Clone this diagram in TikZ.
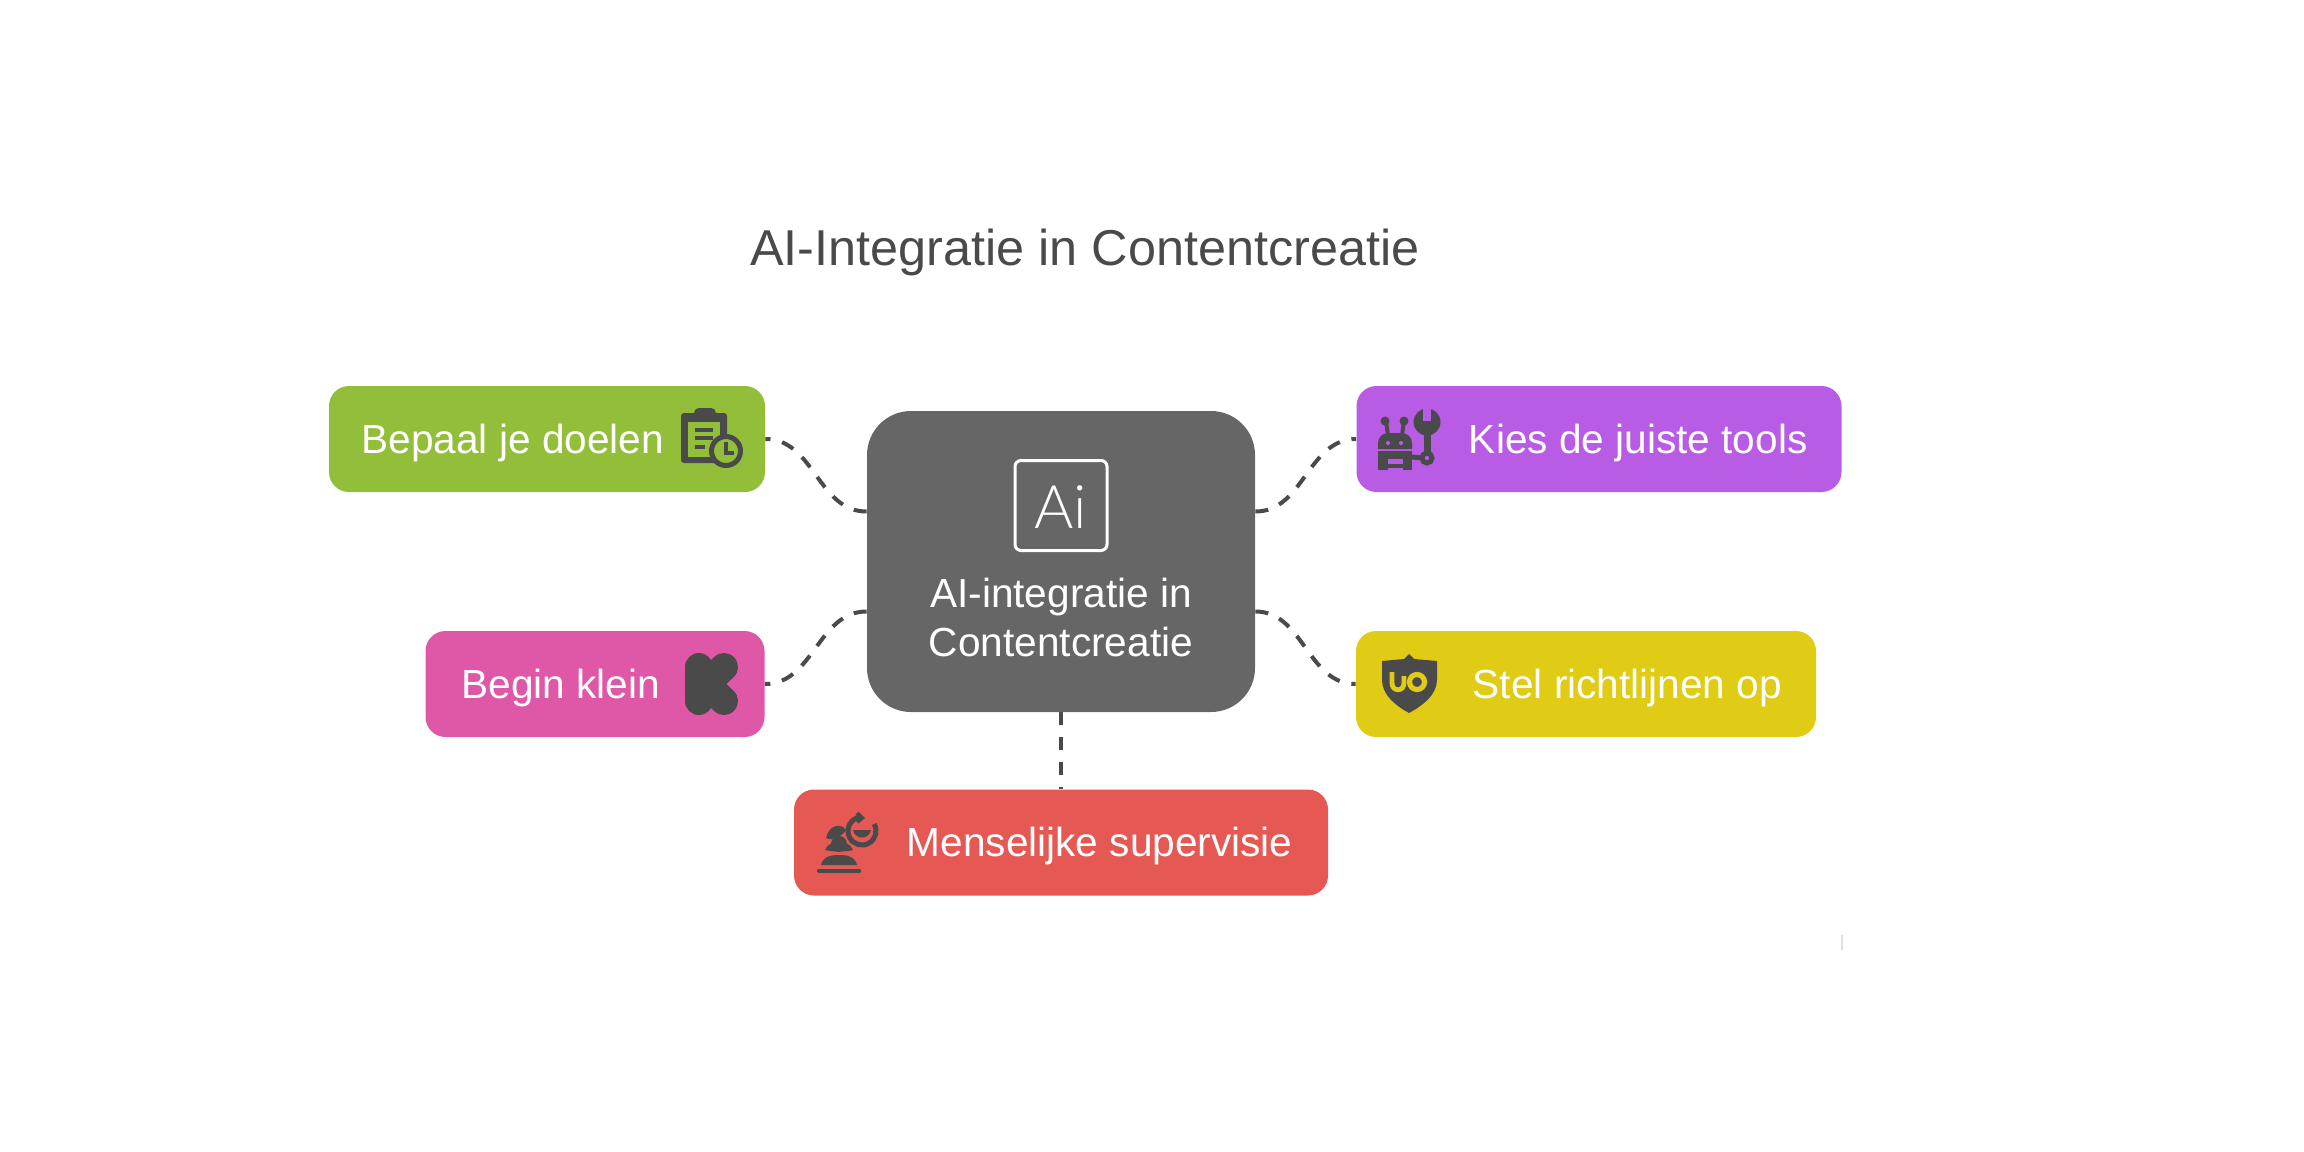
\documentclass[tikz,border=0pt]{standalone}
\usepackage{fontspec}
\setmainfont{Liberation Sans}
\newfontfamily\thinfont{Lato Light}
\definecolor{goalc}{HTML}{93BE3A}
\definecolor{startc}{HTML}{DF57A7}
\definecolor{toolc}{HTML}{B85CE5}
\definecolor{rulec}{HTML}{E0CB15}
\definecolor{humanc}{HTML}{E55854}
\definecolor{hubc}{HTML}{666666}
\definecolor{inkc}{HTML}{4A4A4A}
\begin{document}
\begin{tikzpicture}[
  x=0.5pt, y=-0.5pt,
  block/.style={rectangle, rounded corners=10pt, text=white, minimum height=53pt, inner xsep=17pt, inner ysep=0pt, text height=14pt, text depth=0pt, font=\fontsize{20.3}{24}\selectfont},
  hubbox/.style={rectangle, rounded corners=22pt, fill=hubc, minimum width=194pt, minimum height=150.5pt},
  link/.style={draw=inkc, line width=2pt, dash pattern=on 6.5pt off 6pt}
]
\useasboundingbox (0,0) rectangle (2304,1152);

\node[text=inkc, font=\fontsize{25.2}{30}\selectfont] (title) at (1085,252) {AI-Integratie in Contentcreatie};

\node[hubbox] (hub) at (1061,561.5) {};
\node[block, fill=goalc, left of=hub, node distance=257pt, yshift=61.25pt, inner xsep=16.3pt, text width=185.4pt, align=flush left] (goal) {Bepaal je doelen};
\node[block, fill=startc, left of=hub, node distance=233pt, yshift=-61.25pt, inner xsep=18pt, text width=133.5pt, align=flush left] (start) {Begin klein};
\node[block, fill=toolc, right of=hub, node distance=269pt, yshift=61.25pt, text width=208.5pt, align=flush right] (tool) {Kies de juiste tools};
\node[block, fill=rulec, right of=hub, node distance=262.5pt, yshift=-61.25pt, text width=196pt, align=flush right] (rule) {Stel richtlijnen op};
\node[block, fill=humanc, below of=hub, node distance=140.5pt, inner xsep=17.7pt, text width=231.6pt, align=flush right] (human) {Menselijke supervisie};

% hub label and logo
\node[text=white, align=center, font=\fontsize{20.3}{24.5}\selectfont, below of=hub, node distance=28pt] (hubtext) {AI-integratie in\\Contentcreatie};
\node[draw=white, line width=1.5pt, rounded corners=3pt, minimum width=46pt, minimum height=45pt, above of=hub, node distance=28pt] (logo) {};
\node[text=white, font=\thinfont\fontsize{30}{36}\selectfont, below of=logo, node distance=1pt] (logotext) {Ai};

\draw[link] ([yshift=25pt]hub.west) to[out=180,in=0] (goal.east);
\draw[link] ([yshift=-25pt]hub.west) to[out=180,in=0] (start.east);
\draw[link] ([yshift=25pt]hub.east) to[out=0,in=180] (tool.west);
\draw[link] ([yshift=-25pt]hub.east) to[out=0,in=180] (rule.west);
\draw[link] (hub.south) -- (human.north);

% clipboard
\fill[inkc, rounded corners=1.5pt] (681,413) rectangle (727,463);
\fill[inkc, rounded corners=2.5pt] (694,408) rectangle (716,419);
\fill[goalc] (688,422) rectangle (720,457);
\draw[inkc, line width=2pt] (695,430) -- (713,430);
\draw[inkc, line width=2pt] (695,438) -- (713,438);
\draw[inkc, line width=2pt] (695,447) -- (705,447);
\filldraw[fill=goalc, draw=inkc, line width=2.5pt] (726,451) circle (14.5);
\draw[inkc, line width=2pt] (726,442) -- (726,453) -- (734,453);

% K logo
\draw[inkc, line width=14pt, line cap=round] (699,667) -- (699,701);
\draw[inkc, line width=14pt, line cap=round, line join=round] (724,667) -- (706,684) -- (724,701);

% robot and wrench
\fill[inkc] (1385,421) circle (4.5);
\fill[inkc] (1404,421) circle (4.5);
\draw[inkc, line width=2pt] (1386,421) -- (1388,435);
\draw[inkc, line width=2pt] (1404,421) -- (1402,435);
\fill[inkc, rounded corners=5pt] (1378,449) -- (1378,433) -- (1412,433) [sharp corners] -- (1412,449) -- cycle;
\fill[toolc] (1388,443) circle (2);
\fill[toolc] (1401,443) circle (2);
\fill[inkc] (1378,451) rectangle (1412,470);
\fill[toolc] (1388,459) rectangle (1403,464);
\fill[toolc] (1388,468) rectangle (1403,470);
\fill[inkc] (1427,422) circle (13.5);
\fill[toolc] (1423,408) rectangle (1431,421);
\draw[inkc, line width=3.5pt] (1427,430) -- (1427,455);
\draw[inkc, line width=2.5pt] (1412,457) -- (1423,458);
\filldraw[fill=toolc, draw=inkc, line width=2.5pt] (1427,458) circle (5);

% shield
\fill[inkc] (1409,654) -- (1414,659) -- (1437,661) -- (1437,680) .. controls (1437,695) and (1422,706) .. (1409,713) .. controls (1396,706) and (1382,695) .. (1382,680) -- (1382,661) -- (1404,659) -- cycle;
\draw[rulec, line width=2.4pt] (1392,672) -- (1392,683) .. controls (1392,692) and (1404,692) .. (1404,683) -- (1404,676);
\draw[rulec, line width=2.6pt] (1417,682) circle (7.5);

% person with speech ring
\draw[inkc, line width=2.2pt, line cap=round] (819,871) -- (859,871);
\fill[inkc] (821,865) .. controls (823,856) and (832,855) .. (839,855) .. controls (846,855) and (855,856) .. (857,865) -- cycle;
\fill[inkc] (839,844) circle (8);
\fill[inkc] (825,850) .. controls (829,839) and (849,839) .. (853,850) .. controls (846,852) and (832,852) .. (825,850) -- cycle;
\fill[inkc] (826,838) .. controls (829,824) and (842,823) .. (846,830) .. controls (842,836) and (833,842) .. (826,838) -- cycle;
\draw[inkc, line width=2.5pt] (874.1,824) arc[start angle=-30, end angle=260, radius=14];
\draw[inkc, line width=2pt] (857,813) -- (862,818) -- (857,822);
\fill[inkc] (853,830) .. controls (855,840) and (869,840) .. (871,830) -- cycle;

% speck near the lower right
\fill[black!12] (1841,935) rectangle (1843,950);
\end{tikzpicture}
\end{document}
